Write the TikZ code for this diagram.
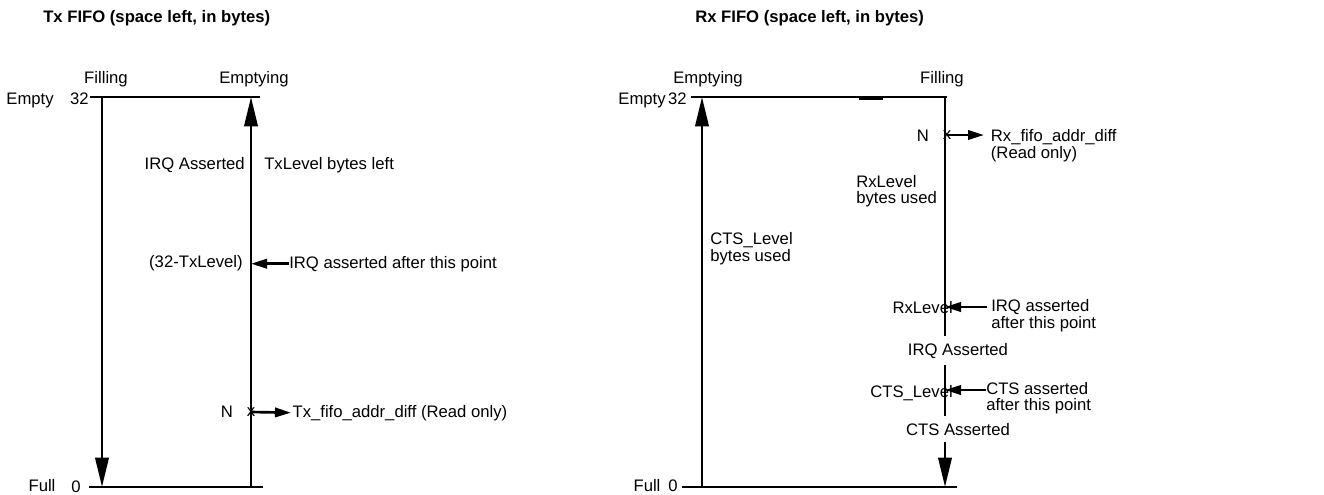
\documentclass[tikz,border=0pt]{standalone}
\usepackage{fontspec}
\setmainfont{Liberation Sans}
\usepackage{tikz}
\usetikzlibrary{arrows.meta,positioning,calc}
\newcommand{\lblfont}{\fontsize{12.5pt}{11.3pt}\selectfont}
\tikzset{
  lbl/.style={font=\lblfont,inner sep=0pt,align=left},
  ttl/.style={font=\lblfont\bfseries,inner sep=0pt},
  gapfill/.style={lbl,fill=white,inner ysep=5pt,inner xsep=2pt},
  axis/.style={line width=2pt},
  fillarrow/.style={-{Triangle[length=22pt,width=10pt]},line width=2pt},
  ptrarrow/.style={-{Triangle[length=12pt,width=7pt]},line width=2pt},
}

\begin{document}
\begin{tikzpicture}[x=0.75pt,y=-0.75pt]
\useasboundingbox (0,0) rectangle (1324,494);

\node[ttl,anchor=base west] (txtitle) at (43,22) {Tx FIFO (space left, in bytes)};
\coordinate (txtopl) at (90,97);
\coordinate (txtopr) at (260,97);
\coordinate (txbotl) at (89,487);
\coordinate (txbotr) at (263,487);
\coordinate (txfilltop) at (102,97);
\coordinate (txfillbot) at (102,487);
\coordinate (txemptop) at (251,97);
\coordinate (txempbot) at (251,487);
\draw[axis] (txtopl) -- (txtopr);
\draw[axis] (txbotl) -- (txbotr);
\draw[fillarrow] (txfilltop) -- (txfillbot);
\draw[fillarrow] (txempbot) -- (txemptop);
\node[lbl,anchor=base] (txempty) at (30,104) {Empty};
\node[lbl,anchor=base east] (txmax) at (89,104) {32};
\node[lbl,anchor=base] (txfull) at (42,491) {Full};
\node[lbl,anchor=base] (txmin) at (76,492) {0};
\node[lbl,anchor=base] (txfilling) at (106,83) {Filling};
\node[lbl,anchor=base] (txemptying) at (254,83) {Emptying};
\node[lbl,anchor=base east] (txirqas) at (245,169) {IRQ Asserted};
\node[lbl,anchor=base west] (txleft) at (264,169) {TxLevel bytes left};
\node[lbl,anchor=base east] (txlevel) at (243,267) {(32-TxLevel)};
\node[lbl,anchor=base west] (txirq) at (289,268) {IRQ asserted after this point};
\node[lbl,anchor=base] (txn) at (227,417) {N};
\node[lbl] (txmark) at (251,412) {x};
\node[lbl,anchor=base west,inner xsep=1pt] (txaddr) at (291,417) {Tx\_fifo\_addr\_diff (Read only)};
\draw[ptrarrow] (txirq.west) -- (txirq.west -| txemptop);
\draw[ptrarrow] (txmark.center) -- (txaddr.west);

\node[ttl,anchor=base west] (rxtitle) at (695,22) {Rx FIFO (space left, in bytes)};
\coordinate (rxtopl) at (691,97);
\coordinate (rxtopr) at (947,97);
\coordinate (rxbotl) at (682,487);
\coordinate (rxbotr) at (957,487);
\coordinate (rxnotchl) at (859,98.5);
\coordinate (rxnotchr) at (883,98.5);
\coordinate (rxemptop) at (702,97);
\coordinate (rxempbot) at (702,487);
\coordinate (rxfilltop) at (945,97);
\coordinate (rxfillbot) at (945,487);
\draw[axis] (rxtopl) -- (rxtopr);
\draw[axis] (rxnotchl) -- (rxnotchr);
\draw[axis] (rxbotl) -- (rxbotr);
\draw[fillarrow] (rxempbot) -- (rxemptop);
\draw[fillarrow] (rxfilltop) -- (rxfillbot);
\node[lbl,anchor=base] (rxempty) at (642,104) {Empty};
\node[lbl,anchor=base east] (rxmax) at (687,104) {32};
\node[lbl,anchor=base] (rxfull) at (647,491) {Full};
\node[lbl,anchor=base] (rxmin) at (673,491) {0};
\node[lbl,anchor=base] (rxemptying) at (708,83) {Emptying};
\node[lbl,anchor=base] (rxfilling) at (942,83) {Filling};
\node[lbl,anchor=base] (rxn) at (923,141) {N};
\node[lbl] (rxmark) at (947,135) {x};
\node[lbl,anchor=base west,inner xsep=5pt] (rxaddr) at (984,158) {Rx\_fifo\_addr\_diff\\(Read only)};
\node[lbl,anchor=base west] (rxused) at (856,203) {RxLevel\\bytes used};
\node[lbl,anchor=base west] (ctsused) at (710,261) {CTS\_Level\\bytes used};
\node[lbl,anchor=base east] (rxlevel) at (953,313) {RxLevel};
\node[lbl,anchor=base west,inner xsep=3pt] (rxirq) at (987,328) {IRQ asserted\\after this point};
\node[gapfill,anchor=base] (rxirqas) at (958,355) {IRQ Asserted};
\node[lbl,anchor=base east] (ctslevel) at (953,397) {CTS\_Level};
\node[lbl,anchor=base west] (ctsafter) at (986,410) {CTS asserted\\after this point};
\node[gapfill,anchor=base] (ctsas) at (958,435) {CTS Asserted};
\coordinate (rxirqpt) at (945,307);
\coordinate (rxctspt) at (945,390);
\draw[ptrarrow] (rxmark.center) -- (rxmark -| rxaddr.west);
\draw[ptrarrow] (rxirqpt -| rxirq.west) -- (rxirqpt);
\draw[ptrarrow] (rxctspt -| ctsafter.west) -- (rxctspt);
\end{tikzpicture}
\end{document}
